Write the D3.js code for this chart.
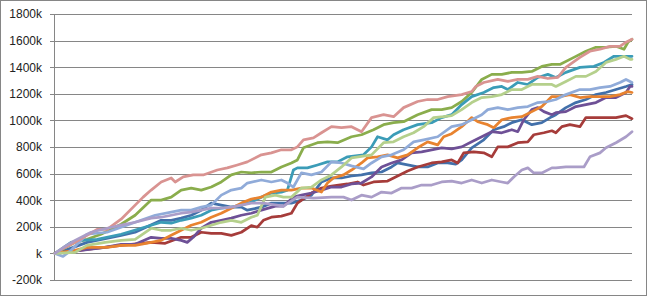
<!DOCTYPE html>
<html>
<head>
<script src="https://d3js.org/d3.v7.min.js"></script>
<style>
  body { margin: 0; background: #fff; }
  svg { display: block; }
  text { font-family: "Liberation Sans", Arial, sans-serif; }
</style>
</head>
<body>
<script>
// tick values and labels (thousands)
const yTicks = [-200, 0, 200, 400, 600, 800, 1000, 1200, 1400, 1600, 1800];
const yLabels = ['-200k', 'k', '200k', '400k', '600k', '800k', '1000k', '1200k', '1400k', '1600k', '1800k'];

// series values: [day, value in k]
const darkBlue = [[0,0],[5,23],[16,83],[33,136],[40,159],[53,249],[58,249],[63,265],[68,287],[73,325],[78,378],[83,363],[88,348],[93,348],[96,325],[103,348],[108,378],[113,378],[118,378],[123,401],[128,438],[133,537],[138,567],[143,567],[148,582],[153,590],[158,605],[163,612],[168,650],[171,680],[176,665],[181,650],[186,650],[191,680],[196,680],[200,672],[203,703],[208,794],[214,854],[219,930],[224,953],[228,983],[233,1005],[238,968],[243,983],[248,1028],[250,1043],[255,1096],[260,1134],[265,1157],[270,1194],[275,1210],[280,1232],[285,1255],[288,1270]];
const darkRed = [[0,0],[16,30],[33,60],[48,83],[55,76],[63,121],[68,121],[73,159],[78,151],[83,151],[88,136],[93,159],[98,209],[101,197],[104,249],[108,272],[113,280],[118,302],[121,378],[128,454],[133,491],[138,506],[146,522],[151,537],[154,514],[159,537],[166,544],[171,582],[176,620],[181,650],[188,680],[193,688],[198,703],[201,680],[204,756],[209,764],[214,756],[218,726],[221,801],[226,801],[231,832],[236,839],[239,892],[244,907],[248,922],[250,907],[253,953],[257,968],[262,953],[265,1021],[270,1021],[275,1021],[280,1021],[285,1036],[288,1013]];
const green = [[0,0],[10,83],[16,106],[23,144],[28,181],[33,219],[40,287],[48,401],[53,401],[58,423],[63,476],[68,491],[73,476],[78,499],[83,537],[88,590],[93,612],[98,605],[103,612],[108,612],[113,650],[118,680],[121,703],[124,794],[131,832],[136,839],[141,832],[148,877],[153,892],[159,930],[164,968],[169,983],[174,990],[181,1043],[188,1081],[193,1081],[198,1096],[203,1142],[208,1210],[213,1308],[218,1346],[223,1346],[228,1361],[233,1361],[238,1368],[243,1406],[248,1421],[252,1421],[259,1474],[265,1520],[270,1550],[275,1550],[280,1557],[284,1535],[286,1588],[288,1610]];
const purple = [[0,0],[13,23],[25,45],[33,68],[40,68],[48,121],[53,113],[58,113],[63,98],[66,83],[69,121],[73,189],[78,234],[83,249],[88,265],[93,287],[98,302],[103,325],[110,355],[114,355],[119,423],[123,438],[128,454],[133,476],[138,499],[143,499],[148,522],[153,529],[158,575],[163,650],[168,680],[173,703],[178,756],[183,764],[188,779],[193,794],[198,786],[203,801],[208,839],[213,877],[218,915],[223,907],[228,930],[231,915],[234,1005],[238,1081],[241,1096],[244,1066],[248,1043],[250,1058],[255,1066],[260,1104],[265,1119],[270,1134],[275,1172],[280,1172],[285,1210],[287,1255],[288,1255]];
const teal = [[0,0],[8,83],[13,98],[21,106],[33,144],[48,212],[53,234],[58,227],[63,249],[68,265],[73,287],[78,325],[83,340],[88,348],[93,363],[98,386],[103,423],[108,454],[113,461],[116,476],[119,627],[121,643],[126,643],[131,665],[136,688],[141,688],[146,726],[154,741],[158,801],[161,877],[166,854],[169,892],[174,930],[181,968],[188,983],[193,1021],[198,1043],[203,1119],[208,1179],[214,1210],[219,1247],[223,1255],[226,1232],[231,1285],[236,1270],[241,1323],[246,1346],[250,1323],[255,1361],[262,1399],[269,1406],[274,1436],[279,1482],[284,1482],[288,1482]];
const orange = [[0,0],[10,23],[16,45],[26,45],[33,60],[40,60],[48,83],[53,98],[58,136],[63,174],[68,212],[73,234],[78,272],[83,302],[88,340],[93,378],[98,408],[103,423],[108,461],[113,476],[118,476],[123,491],[128,491],[133,461],[136,529],[139,567],[144,590],[148,627],[153,680],[156,718],[161,726],[166,741],[171,718],[176,741],[181,794],[186,839],[191,816],[194,877],[198,900],[203,953],[208,1021],[211,990],[216,968],[219,945],[223,1005],[228,1021],[233,1028],[238,1066],[243,1104],[248,1179],[252,1179],[257,1194],[262,1172],[267,1179],[272,1179],[277,1179],[282,1194],[286,1217],[288,1210]];
const lightBlue = [[0,0],[4,-23],[8,23],[16,144],[26,159],[40,234],[50,287],[58,310],[63,325],[68,325],[73,348],[78,363],[83,438],[88,476],[93,491],[96,529],[103,552],[108,537],[113,552],[116,529],[119,499],[123,605],[128,590],[133,612],[138,688],[143,680],[148,658],[154,635],[158,680],[163,726],[168,741],[174,779],[179,839],[184,854],[191,877],[198,953],[203,968],[208,1005],[213,1043],[216,1081],[221,1096],[226,1081],[231,1096],[236,1104],[241,1134],[246,1142],[250,1157],[255,1194],[262,1232],[267,1232],[272,1247],[277,1255],[282,1285],[285,1308],[288,1285]];
const pink = [[0,0],[5,45],[10,83],[16,136],[21,181],[26,181],[33,257],[40,363],[44,423],[48,476],[53,537],[58,567],[60,537],[64,575],[69,590],[74,590],[81,627],[86,643],[91,665],[96,688],[103,741],[108,756],[113,779],[118,779],[121,801],[124,854],[129,869],[133,907],[138,953],[143,945],[148,953],[153,915],[158,1021],[164,1043],[169,1028],[174,1096],[181,1142],[186,1157],[191,1157],[196,1179],[203,1194],[208,1217],[210,1255],[214,1285],[221,1308],[226,1293],[231,1308],[236,1308],[241,1331],[246,1315],[251,1323],[255,1399],[262,1474],[267,1520],[272,1535],[277,1557],[282,1557],[285,1588],[288,1610]];
const lightGreen = [[0,0],[10,8],[16,60],[25,83],[33,98],[40,106],[48,189],[53,174],[58,174],[63,189],[68,174],[73,189],[78,212],[83,234],[88,249],[93,234],[98,272],[101,287],[105,423],[110,438],[114,423],[118,423],[123,491],[128,499],[133,552],[138,590],[143,650],[148,718],[158,741],[164,832],[169,839],[174,877],[179,907],[184,953],[189,1021],[194,1028],[198,1036],[203,1081],[208,1134],[213,1172],[218,1179],[223,1194],[228,1232],[233,1232],[238,1270],[243,1270],[248,1270],[250,1255],[255,1293],[260,1331],[265,1331],[270,1368],[275,1436],[280,1459],[284,1482],[287,1459],[288,1459]];
const lavender = [[0,0],[5,53],[10,98],[18,159],[26,189],[33,212],[40,234],[48,265],[53,272],[58,287],[63,302],[68,310],[73,325],[78,340],[83,340],[88,348],[93,363],[98,378],[104,378],[114,355],[121,423],[129,416],[138,423],[144,423],[148,401],[153,438],[158,423],[163,461],[168,454],[173,491],[178,491],[183,514],[188,514],[193,537],[198,544],[203,529],[208,552],[213,529],[218,552],[223,537],[226,529],[229,575],[233,627],[236,643],[239,605],[243,605],[248,643],[250,643],[255,650],[260,650],[264,650],[267,726],[272,756],[275,794],[280,832],[285,877],[288,915]];

const seriesList = [
    { data: darkBlue, color: '#4270AA' },
    { data: darkRed, color: '#A63C3A' },
    { data: green, color: '#8AAD4C' },
    { data: purple, color: '#6E5096' },
    { data: teal, color: '#3B9CB7' },
    { data: orange, color: '#E8832F' },
    { data: lightBlue, color: '#90ABD9' },
    { data: pink, color: '#D99391' },
    { data: lightGreen, color: '#B5D08C' },
    { data: lavender, color: '#AA9DC8' }
];

const W = 647, H = 296;
const plotLeft = 54, plotRight = 632, plotTop = 14, plotBottom = 280;

const svg = d3.select('body').append('svg')
    .attr('width', W)
    .attr('height', H);

// outer border
svg.append('rect')
    .attr('x', 0.5).attr('y', 0.5)
    .attr('width', W - 1).attr('height', H - 1)
    .attr('fill', '#fff')
    .attr('stroke', '#868686');

const x = d3.scaleLinear().domain([0, 288]).range([plotLeft + 1, plotRight]);
const y = d3.scaleLinear().domain([-200, 1800]).range([plotBottom, plotTop]);

// gridlines
svg.append('g')
    .attr('transform', `translate(${plotLeft},0)`)
    .call(d3.axisLeft(y).tickValues(yTicks).tickSize(-(plotRight - plotLeft)).tickFormat(''))
    .call(g => g.select('.domain').remove())
    .call(g => g.selectAll('line').attr('stroke', '#868686').attr('shape-rendering', 'crispEdges'));

// y axis with labels
svg.append('g')
    .attr('transform', `translate(${plotLeft},0)`)
    .call(d3.axisLeft(y).tickValues(yTicks).tickSize(4).tickPadding(8)
        .tickFormat((d, i) => yLabels[i]))
    .call(g => g.select('.domain').attr('stroke', '#868686').attr('shape-rendering', 'crispEdges'))
    .call(g => g.selectAll('line').attr('stroke', '#868686').attr('shape-rendering', 'crispEdges'))
    .call(g => g.selectAll('text')
        .attr('fill', '#222')
        .style('font-size', '12px')
        .style('font-family', '"Liberation Sans", Arial, sans-serif'));

const line = d3.line()
    .x(d => x(d[0]))
    .y(d => y(d[1]));

svg.append('g')
    .selectAll('path')
    .data(seriesList)
    .enter()
    .append('path')
    .attr('d', d => line(d.data))
    .attr('fill', 'none')
    .attr('stroke', d => d.color)
    .attr('stroke-width', 2.75)
    .attr('stroke-linejoin', 'round')
    .attr('stroke-linecap', 'round');
</script>
</body>
</html>
